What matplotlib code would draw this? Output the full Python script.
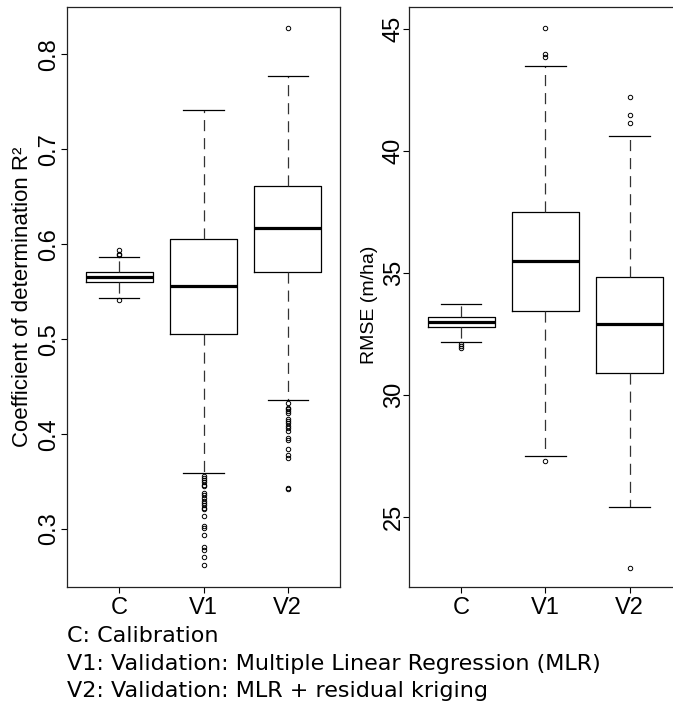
import matplotlib
matplotlib.use("Agg")
import matplotlib.pyplot as plt

# group names
groups = ["C", "V1", "V2"]

# R2 panel: lower whisker, Q1, median, Q3, upper whisker
r2_whislo = [0.5438, 0.359, 0.4361]
r2_q1 = [0.5600, 0.5059, 0.5712]
r2_med = [0.5656, 0.5564, 0.6175]
r2_q3 = [0.5705, 0.6053, 0.6610]
r2_whishi = [0.5866, 0.741, 0.7772]
r2_fliers = [
    [0.5414, 0.5884, 0.5898, 0.594],
    [0.3564, 0.3543, 0.3519, 0.3494, 0.3466, 0.3449, 0.3379, 0.3358, 0.3323,
     0.3301, 0.3274, 0.3249, 0.3224, 0.3207, 0.3137, 0.3032, 0.3011, 0.2937,
     0.2811, 0.2782, 0.2702, 0.2621],
    [0.8274, 0.4333, 0.4281, 0.4263, 0.4245, 0.4228, 0.4158, 0.4140, 0.4116,
     0.4091, 0.4070, 0.4032, 0.3958, 0.3940, 0.3842, 0.3779, 0.3754, 0.3438,
     0.3421],
]

# RMSE panel
rmse_whislo = [32.16, 27.51, 25.41]
rmse_q1 = [32.80, 33.45, 30.88]
rmse_med = [33.00, 35.47, 32.91]
rmse_q3 = [33.20, 37.50, 34.84]
rmse_whishi = [33.72, 43.50, 40.60]
rmse_fliers = [
    [32.1, 32.0, 31.9],
    [45.04, 43.96, 43.86, 27.3],
    [42.19, 41.46, 41.14, 22.9],
]

notes = [
    "C: Calibration",
    "V1: Validation: Multiple Linear Regression (MLR)",
    "V2: Validation: MLR + residual kriging",
]

plt.rcParams["font.family"] = ["Liberation Sans", "DejaVu Sans"]
plt.rcParams["lines.scale_dashes"] = False


def make_stats(lo, q1, med, q3, hi, fl):
    out = []
    for i, g in enumerate(groups):
        out.append(dict(label=g, whislo=lo[i], q1=q1[i], med=med[i],
                        q3=q3[i], whishi=hi[i], fliers=fl[i]))
    return out


def draw(ax, stats, ypad):
    ax.bxp(stats, positions=[1, 2, 3], widths=0.8, capwidths=0.48,
           showfliers=True,
           boxprops=dict(color="black", linewidth=0.9),
           medianprops=dict(color="black", linewidth=2.3, solid_capstyle="butt"),
           whiskerprops=dict(color="#333333", linewidth=0.9,
                             linestyle=(0, (8, 5))),
           capprops=dict(color="black", linewidth=0.9),
           flierprops=dict(marker="o", markersize=3.2, markerfacecolor="none",
                           markeredgecolor="black", markeredgewidth=0.7))
    ax.set_xlim(0.38, 3.62)
    ax.set_xticks([1, 2, 3])
    ax.set_xticklabels(groups, fontsize=17)
    ax.tick_params(axis="x", length=4.5, width=0.8, pad=3)
    ax.tick_params(axis="y", length=4.5, width=0.8, pad=ypad,
                   labelsize=17, labelrotation=90)
    for lab in ax.get_yticklabels():
        lab.set_verticalalignment("center")
    for s in ax.spines.values():
        s.set_linewidth(0.9)
        s.set_color("#222222")


fig = plt.figure(figsize=(6.73, 7.07), dpi=100)
ax1 = fig.add_axes([0.0996, 0.1697, 0.4056, 0.8211])
ax2 = fig.add_axes([0.6077, 0.1697, 0.4056, 0.8211])

draw(ax1, make_stats(r2_whislo, r2_q1, r2_med, r2_q3, r2_whishi, r2_fliers), 0.5)
ax1.set_ylim(0.239, 0.8505)
ax1.set_yticks([0.3, 0.4, 0.5, 0.6, 0.7, 0.8])
ax1.set_yticklabels(["0.3", "0.4", "0.5", "0.6", "0.7", "0.8"])
ax1.set_ylabel("Coefficient of determination R²", fontsize=16)
ax1.yaxis.set_label_coords(-0.125, 0.5)

draw(ax2, make_stats(rmse_whislo, rmse_q1, rmse_med, rmse_q3, rmse_whishi,
                     rmse_fliers), -1.5)
ax2.set_ylim(22.12, 45.92)
ax2.set_yticks([25, 30, 35, 40, 45])
ax2.set_yticklabels(["25", "30", "35", "40", "45"])
ax2.set_ylabel("RMSE (m/ha)", fontsize=14)
ax2.yaxis.set_label_coords(-0.112, 0.486)

for i, t in enumerate(notes):
    fig.text(67 / 673, 1 - (636 + 27.5 * i) / 707, t, fontsize=16,
             family="DejaVu Sans", va="center", ha="left")

fig.savefig("out.png", dpi=100)
